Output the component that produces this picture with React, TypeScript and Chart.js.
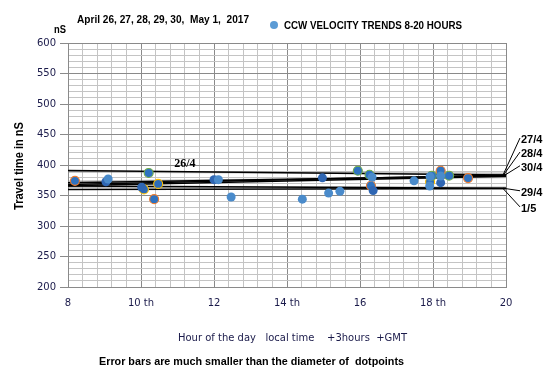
import React, { useEffect, useRef } from "react";
import { Chart, registerables } from "chart.js";
Chart.register(...registerables);

// ---- axes ----
const xMin = 8;
const xMax = 20;
const xMajorHours = [8, 10, 12, 14, 16, 18, 20];
const xMajorLabels = ["8", "10 th", "12", "14 th", "16", "18 th", "20"];
const yMin = 200;
const yMax = 600;
const yMajorValues = [200, 250, 300, 350, 400, 450, 500, 550, 600];

// ---- measured points (hour, travel time nS) ----
const orangeHours = [8.19, 10.36, 16.3, 18.21, 18.96];
const orangeValues = [374, 344, 366, 390.5, 378.5];
const greenHours = [10.21, 15.94, 16.26, 17.97, 18.44];
const greenValues = [387, 390.5, 384, 382.5, 382.5];
const yellowHours = [10.08, 10.47, 17.92];
const yellowValues = [360, 369, 372.5];
const darkHours = [9.04, 10.02, 12.0, 14.97, 16.36, 18.21];
const darkValues = [372.5, 363.5, 376, 379, 358, 371];
const lightHours = [9.1, 12.12, 12.47, 14.42, 15.14, 15.45, 16.33, 17.48, 17.92, 17.91, 18.21];
const lightValues = [377, 376, 347.5, 344, 354, 357, 380, 374, 381, 365.5, 382];

// ---- trend lines per day ----
const trendNames = ["26/4", "27/4", "28/4", "30/4", "29/4", "1/5"];
const trendStart = [391, 368, 371, 366, 365.5, 360];
const trendEnd = [383.5, 383.5, 382.5, 381.5, 362, 361.5];
const greyStart = [389, 373, 364];
const greyEnd = [386, 380, 363];
// label anchors (values) for the right-hand labels (all except 26/4)
const rightLabelValues = [441, 418, 395.5, 354.5, 328];
const label26Hour = 11.2;
const label26Value = 401.5;

const legendLabel = "CCW VELOCITY TRENDS 8-20 HOURS";
const titleText = "April 26, 27, 28, 29, 30,  May 1,  2017";
const yUnitText = "nS";
const yTitleText = "Travel time in nS";
const xTitleText = "Hour of the day   local time    +3hours  +GMT";
const noteText = "Error bars are much smaller than the diameter of  dotpoints";

const near = (a: number, b: number) => Math.abs(a - b) < 1e-6;
const isXMajor = (v: number) => xMajorHours.some((h) => near(h, v));
const isYMajor = (v: number) => yMajorValues.some((h) => near(h, v));

const pts = (xs: number[], ys: number[]) => xs.map((x, i) => ({ x, y: ys[i] }));

function fitText(
  ctx: CanvasRenderingContext2D,
  text: string,
  x: number,
  y: number,
  w: number,
  font: string,
  color: string
) {
  ctx.save();
  ctx.font = font;
  const m = ctx.measureText(text).width;
  const s = w / m;
  ctx.translate(x, y);
  ctx.scale(s, 1);
  ctx.textBaseline = "middle";
  ctx.textAlign = "left";
  ctx.fillStyle = color;
  ctx.fillText(text, 0, 0);
  ctx.restore();
}

const textPlugin = {
  id: "textPlugin",
  afterDraw(chart: any) {
    const ctx: CanvasRenderingContext2D = chart.ctx;
    const xs = chart.scales.x;
    const ys = chart.scales.y;
    // header
    fitText(ctx, titleText, 77, 20, 172, "bold 11px 'Liberation Sans'", "#000");
    fitText(ctx, yUnitText, 54, 30, 12, "bold 11px 'Liberation Sans'", "#000");
    // legend
    ctx.save();
    ctx.fillStyle = "#5b9bd5";
    ctx.beginPath();
    ctx.arc(274, 25, 4, 0, Math.PI * 2);
    ctx.fill();
    ctx.restore();
    fitText(ctx, legendLabel, 284, 26, 178, "bold 11px 'Liberation Sans'", "#000");
    // y title
    ctx.save();
    ctx.translate(20, 166);
    ctx.rotate(-Math.PI / 2);
    fitText(ctx, yTitleText, -44, 0, 88, "bold 12px 'Liberation Sans'", "#000");
    ctx.restore();
    // x title and note
    fitText(ctx, xTitleText, 178, 338, 229, "11px 'DejaVu Sans'", "#1a1a4a");
    fitText(ctx, noteText, 99, 362, 305, "bold 11px 'Liberation Sans'", "#000");

    // 26/4 label
    const l26x = xs.getPixelForValue(label26Hour);
    const l26y = ys.getPixelForValue(label26Value);
    ctx.save();
    ctx.font = "bold 12px 'Liberation Serif'";
    ctx.fillStyle = "#000";
    ctx.textAlign = "center";
    ctx.textBaseline = "middle";
    ctx.fillText(trendNames[0], l26x, l26y);
    ctx.restore();

    // right labels with leader lines
    const xr = xs.getPixelForValue(xMax);
    ctx.save();
    ctx.strokeStyle = "#000";
    ctx.lineWidth = 1;
    ctx.font = "bold 11px 'Liberation Sans'";
    ctx.fillStyle = "#000";
    ctx.textBaseline = "middle";
    ctx.textAlign = "left";
    for (let i = 1; i < trendNames.length; i++) {
      const sy = ys.getPixelForValue(trendEnd[i]);
      const ly = ys.getPixelForValue(rightLabelValues[i - 1]);
      ctx.beginPath();
      ctx.moveTo(xr - 3, sy);
      ctx.lineTo(xr + 14, ly - 2);
      ctx.stroke();
      ctx.fillText(trendNames[i], xr + 15, ly);
    }
    ctx.restore();
  },
};

export default function App() {
  const ref = useRef<HTMLCanvasElement | null>(null);
  useEffect(() => {
    document.body.style.margin = "0";
    if (!ref.current) return;
    const pointDs = (data: any[], fill: string, border: string, bw: number) => ({
      type: "scatter" as const,
      data,
      backgroundColor: fill,
      borderColor: border,
      borderWidth: bw,
      pointRadius: 4.5,
      pointHoverRadius: 4.5,
      order: 1,
    });
    const trendDs = trendNames.map((_, i) => ({
      type: "line" as const,
      data: [
        { x: xMin, y: trendStart[i] },
        { x: xMax, y: trendEnd[i] },
      ],
      borderColor: "#000",
      borderWidth: 1.5,
      pointRadius: 0,
      fill: false,
      order: 3,
    }));
    const greyDs = greyStart.map((_, i) => ({
      type: "line" as const,
      data: [
        { x: xMin, y: greyStart[i] },
        { x: xMax, y: greyEnd[i] },
      ],
      borderColor: "rgba(130,130,130,0.5)",
      borderWidth: 2,
      pointRadius: 0,
      fill: false,
      order: 4,
    }));
    const chart = new Chart(ref.current, {
      type: "scatter",
      data: {
        datasets: [
          pointDs(pts(lightHours, lightValues), "#4a8bcb", "#4a8bcb", 0),
          pointDs(pts(darkHours, darkValues), "#2f66b3", "#2f66b3", 0),
          pointDs(pts(orangeHours, orangeValues), "#2e72c0", "#ed7d31", 1.1),
          pointDs(pts(greenHours, greenValues), "#2e72c0", "#70ad47", 1.1),
          pointDs(pts(yellowHours, yellowValues), "#2e6cb8", "#ffc000", 1.1),
          ...trendDs,
          ...greyDs,
        ] as any,
      },
      options: {
        responsive: false,
        animation: false,
        layout: { padding: { left: 0, right: 54, top: 43, bottom: 0 } },
        plugins: {
          legend: { display: false },
          tooltip: { enabled: false },
          title: { display: false },
        },
        scales: {
          x: {
            type: "linear",
            min: xMin,
            max: xMax,
            afterFit: (s: any) => {
              s.height = 93;
            },
            ticks: {
              stepSize: 0.4,
              autoSkip: false,
              maxRotation: 0,
              padding: 10,
              color: "#1a1a4a",
              font: { family: "'DejaVu Sans'", size: 10 },
              callback: (v: any) => {
                const i = xMajorHours.findIndex((h) => near(h, Number(v)));
                return i >= 0 ? xMajorLabels[i] : "";
              },
            },
            grid: {
              drawTicks: false,
              color: (c: any) => (c.tick && isXMajor(c.tick.value) ? "#8a8a8a" : "#c4c4c4"),
              lineWidth: 1,
            },
            border: { color: "#8a8a8a" },
          },
          y: {
            type: "linear",
            min: yMin,
            max: yMax,
            afterFit: (s: any) => {
              s.width = 68;
            },
            ticks: {
              stepSize: 10,
              autoSkip: false,
              padding: 4,
              color: "#1a1a4a",
              font: { family: "'DejaVu Sans'", size: 10 },
              callback: (v: any) => (isYMajor(Number(v)) ? String(v) : ""),
            },
            grid: {
              drawTicks: true,
              tickLength: 8,
              color: (c: any) => (c.tick && isYMajor(c.tick.value) ? "#8a8a8a" : "#c4c4c4"),
              tickColor: (c: any) => (c.tick && isYMajor(c.tick.value) ? "#8a8a8a" : "rgba(0,0,0,0)"),
              lineWidth: 1,
            },
            border: { color: "#8a8a8a" },
          },
        },
      },
      plugins: [textPlugin],
    });
    return () => chart.destroy();
  }, []);
  return (
    <div style={{ width: 560, height: 380, background: "#fff" }}>
      <canvas ref={ref} width={560} height={380} />
    </div>
  );
}
